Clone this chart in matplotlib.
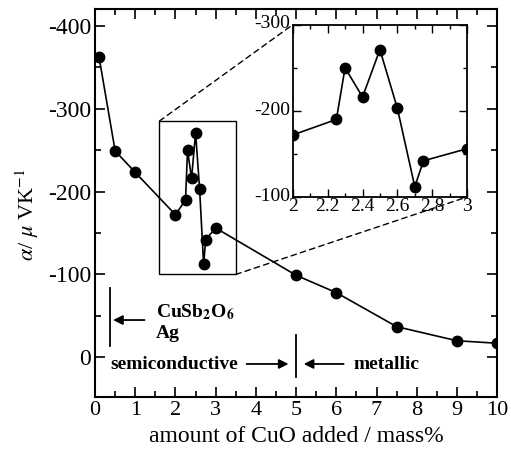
import matplotlib
matplotlib.use("Agg")
import matplotlib.pyplot as plt
from matplotlib.ticker import MultipleLocator
from matplotlib.patches import Rectangle, ConnectionPatch
from matplotlib.transforms import ScaledTranslation

# Seebeck coefficient vs. CuO content
cuo = [0.1, 0.5, 1.0, 2.0, 2.25, 2.3, 2.4, 2.5, 2.6, 2.7, 2.75, 3.0, 5.0, 6.0, 7.5, 9.0, 10.0]
alpha = [-362, -249, -223, -172, -190, -250, -216, -271, -203, -112, -142, -156, -99, -78, -37, -20, -17]

# zoomed region shown in the inset
zoom_x = (2.0, 3.0)
zoom_y = (-100, -300)
box_x = (1.6, 3.5)
box_y = (-100, -285)

plt.rcParams['font.family'] = ['Liberation Serif', 'DejaVu Serif']
plt.rcParams['mathtext.fontset'] = 'stix'
plt.rcParams['axes.unicode_minus'] = False
plt.rcParams['font.size'] = 16

fig = plt.figure(figsize=(5.11, 4.57), dpi=100)
ax = fig.add_axes([0.186, 0.131, 0.787, 0.849])

ax.plot(cuo, alpha, 'k-', lw=1.2, marker='o', ms=7.5, mfc='k', mec='k')
ax.set_xlim(0, 10)
ax.set_ylim(48, -420)
ax.xaxis.set_major_locator(MultipleLocator(1))
ax.xaxis.set_minor_locator(MultipleLocator(0.5))
ax.yaxis.set_major_locator(MultipleLocator(100))
ax.yaxis.set_minor_locator(MultipleLocator(50))
ax.tick_params(which='both', direction='in', top=True, right=True, width=1.2)
ax.tick_params(which='major', length=7, pad=3)
ax.tick_params(which='minor', length=4)
ax.tick_params(axis='y', labelsize=17)
ax.tick_params(axis='x', labelsize=16)
for s in ax.spines.values():
    s.set_linewidth(1.5)

ax.set_xlabel('amount of CuO added / mass%', fontsize=17, labelpad=4)
ax.set_ylabel(r'$\alpha$/ $\mu$ VK$^{-1}$', fontsize=16, labelpad=4)
ax.yaxis.set_label_coords(-0.135, 0.47)

# box around the zoomed points
ax.add_patch(Rectangle((box_x[0], box_y[1]), box_x[1] - box_x[0], box_y[0] - box_y[1],
                       fill=False, ec='k', lw=1.0))

# phase annotations
ax.plot([0.36, 0.36], [-84, -14], 'k-', lw=1.3)
ax.annotate('', xy=(0.38, -45), xytext=(1.3, -45),
            arrowprops=dict(arrowstyle='-|>', color='k', lw=1.3, mutation_scale=14))
ax.text(1.52, -54, r'CuSb$_\mathbf{2}$O$_\mathbf{6}$', fontweight='bold', fontsize=14,
        ha='left', va='center')
ax.text(1.52, -29, 'Ag', fontweight='bold', fontsize=14, ha='left', va='center')

ax.plot([5, 5], [-27, 24], 'k-', lw=1.3)
ax.text(0.37, 9, 'semiconductive', fontweight='bold', fontsize=14, ha='left', va='center')
ax.annotate('', xy=(4.88, 8), xytext=(3.7, 8),
            arrowprops=dict(arrowstyle='-|>', color='k', lw=1.3, mutation_scale=14))
ax.annotate('', xy=(5.12, 8), xytext=(6.25, 8),
            arrowprops=dict(arrowstyle='-|>', color='k', lw=1.3, mutation_scale=14))
ax.text(6.42, 9, 'metallic', fontweight='bold', fontsize=14, ha='left', va='center')

# inset
axin = fig.add_axes([0.573, 0.569, 0.341, 0.377])
axin.plot(cuo, alpha, 'k-', lw=1.2, marker='o', ms=7.5, mfc='k', mec='k')
axin.set_xlim(*zoom_x)
axin.set_ylim(*zoom_y)
axin.xaxis.set_minor_locator(MultipleLocator(0.1))
axin.yaxis.set_major_locator(MultipleLocator(100))
axin.yaxis.set_minor_locator(MultipleLocator(50))
axin.set_xticks([2.0, 2.2, 2.4, 2.6, 2.8, 3.0], ['2', '2.2', '2.4', '2.6', '2.8', '3'])
axin.tick_params(which='both', direction='in', top=True, right=True, width=1.0, labelsize=14)
axin.tick_params(which='major', length=6)
axin.tick_params(axis='x', which='major', pad=1)
axin.tick_params(axis='y', which='major', pad=2)
axin.tick_params(which='minor', length=3)
for s in axin.spines.values():
    s.set_linewidth(1.3)
# lift the y labels a little so they clear the x labels at the corner
lift = ScaledTranslation(0, 2 / 72, fig.dpi_scale_trans)
for lab in axin.get_yticklabels():
    lab.set_transform(lab.get_transform() + lift)

for pa, pb in [((box_x[0], box_y[1]), (0, 1)), ((box_x[1], box_y[0]), (1, 0))]:
    con = ConnectionPatch(xyA=pa, coordsA='data', axesA=ax,
                          xyB=pb, coordsB='axes fraction', axesB=axin,
                          ls=(0, (4, 3)), lw=1.0, color='k')
    fig.add_artist(con)

fig.savefig('out.png', dpi=100)
